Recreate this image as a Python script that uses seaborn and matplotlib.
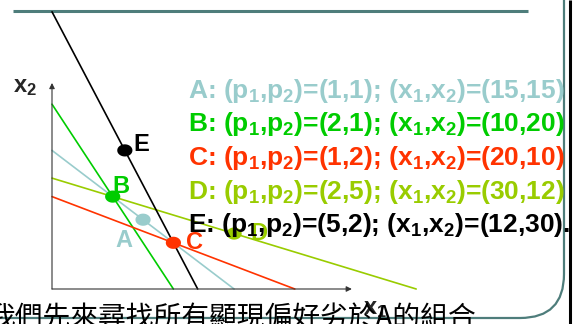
import numpy as np
import pandas as pd
import matplotlib
matplotlib.use("Agg")
import matplotlib.pyplot as plt
from matplotlib.path import Path
from matplotlib.patches import PathPatch
import seaborn as sns

# Bundles: name, prices (p1, p2) and chosen quantities (x1, x2)
labels = ["A", "B", "C", "D", "E"]
p1 = [1, 2, 1, 2, 5]
p2 = [1, 1, 2, 5, 2]
x1 = [15, 10, 20, 30, 12]
x2 = [15, 20, 10, 12, 30]
colors = ["#99CCCC", "#00CC00", "#FF3300", "#99CC00", "#000000"]
row_suffix = ["", "", "", "", "."]

footer = "我們先來尋找所有顯現偏好劣於A的組合"

sns.set_theme(style="white")
plt.rcParams["font.family"] = ["Liberation Sans", "DejaVu Sans"]
plt.rcParams["font.weight"] = "bold"
plt.rcParams["mathtext.fontset"] = "custom"
for k in ("rm", "it", "bf", "sf"):
    plt.rcParams[f"mathtext.{k}"] = "Liberation Sans:bold"

W, H = 581, 324
fig = plt.figure(figsize=(W / 100, H / 100), dpi=100)

# slide frame, laid out in pixel units
frame = fig.add_axes([0, 0, 1, 1])
frame.set_xlim(0, W)
frame.set_ylim(H, 0)
frame.axis("off")
teal = "#4e7d7b"
frame.plot([13, 528], [11, 11], color=teal, lw=2.2, solid_capstyle="butt")
edge = Path([(564, 0), (564, 274), (564, 318), (520, 318), (0, 318)],
            [Path.MOVETO, Path.LINETO, Path.CURVE3, Path.CURVE3, Path.LINETO])
frame.add_patch(PathPatch(edge, fill=False, edgecolor=teal, lw=1.6))
frame.plot([570, 570], [0, H], color="black", lw=2.2, solid_capstyle="butt")

# economics diagram
ax = fig.add_axes([0, 0, 1, 1])
ax.patch.set_alpha(0)
ax.axis("off")
ox, oy, sx, sy = 52, 289, 6.07, 4.62
ax.set_xlim(-ox / sx, (W - ox) / sx)
ax.set_ylim(-(H - oy) / sy, oy / sy)

axis_kw = dict(arrowstyle="-|>", color="#333333", lw=0.8, shrinkA=0, shrinkB=0,
               mutation_scale=8)
ax.annotate("", xy=(0, 44.6), xytext=(0, 0), arrowprops=axis_kw)
ax.annotate("", xy=(49.4, 0), xytext=(0, 0), arrowprops=axis_kw)

palette = dict(zip(labels, colors))

# budget lines p1*x1 + p2*x2 = p1*x1* + p2*x2*
rows = []
for lab, a, b, u, v in zip(labels, p1, p2, x1, x2):
    m = a * u + b * v
    rows.append(dict(label=lab, x=0, y=m / b))
    rows.append(dict(label=lab, x=m / a, y=0))
lines = pd.DataFrame(rows)
sns.lineplot(data=lines, x="x", y="y", hue="label", palette=palette,
             estimator=None, sort=False, lw=1.2, legend=False, ax=ax, zorder=2)

pts = pd.DataFrame(dict(label=labels, x1=x1, x2=x2))
t = np.linspace(0, 2 * np.pi, 40)
oval = Path(np.column_stack([np.cos(t), 0.8 * np.sin(t)]))
sns.scatterplot(data=pts, x="x1", y="x2", hue="label", palette=palette,
                marker=oval, s=120, linewidth=0, legend=False, ax=ax, zorder=3)

offsets = {"A": (-19, -21, "center"), "B": (8, 10, "center"),
           "C": (13, 0, "left"), "D": (16, 0, "left"), "E": (9, 6, "left")}
for lab, u, v, c in zip(labels, x1, x2, colors):
    dx, dy, ha = offsets[lab]
    ax.annotate(lab, (u, v), xytext=(dx, dy), textcoords="offset pixels",
                ha=ha, va="center", color=c, fontsize=17, fontweight="bold",
                zorder=4)

# price / quantity table
baselines = [98, 131.5, 165, 198.5, 232]
for lab, a, b, u, v, c, suf, yb in zip(labels, p1, p2, x1, x2, colors,
                                       row_suffix, baselines):
    s = (f"{lab}: (p$_1$,p$_2$)=({a},{b}); "
         f"(x$_1$,x$_2$)=({u},{v}){suf}")
    ax.text(188, yb, s, transform=frame.transData, color=c, fontsize=19,
            fontweight="bold", ha="left", va="baseline", zorder=5)

ax.text(13, 92, "x$_2$", transform=frame.transData, fontsize=17,
        fontweight="bold", ha="left", va="baseline", zorder=5)
ax.text(363, 314, "x$_1$", transform=frame.transData, fontsize=17,
        fontweight="bold", ha="left", va="baseline", zorder=5)

ax.text(-12, 326, footer, transform=frame.transData, fontsize=20,
        family=["Noto Sans CJK TC", "DejaVu Sans"], fontweight="normal",
        color="black", ha="left", va="baseline", zorder=6)

fig.savefig("out.png", dpi=100)
